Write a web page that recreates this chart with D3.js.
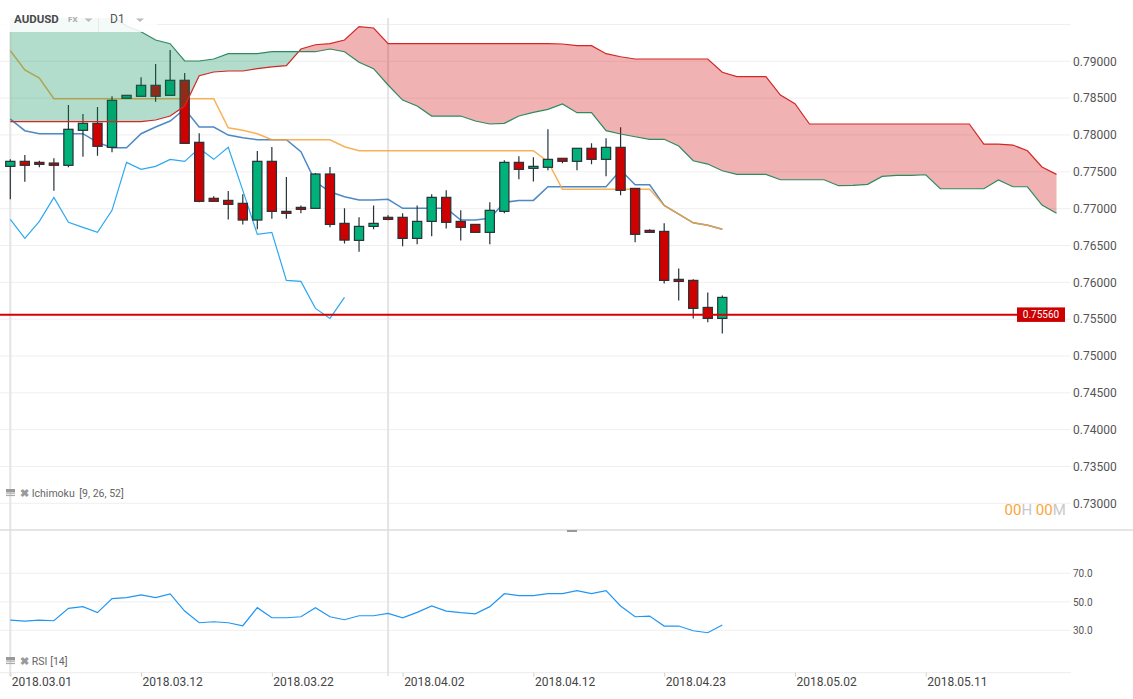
<!DOCTYPE html>
<html>
<head>
<meta charset="utf-8">
<title>AUDUSD D1</title>
<style>
  html, body { margin: 0; padding: 0; background: #fff; }
  svg { display: block; font-family: Roboto, "Open Sans", sans-serif; }
</style>
</head>
<body>
<script src="https://cdn.jsdelivr.net/npm/d3@7"></script>
<script>
// candles, one per trading day (2018.03.01 .. 2018.04.27)
const opens  = [0.77574,0.77642,0.77628,0.77619,0.77588,0.78063,0.78158,0.77832,0.78498,0.78525,
                0.78674,0.78538,0.78742,0.77900,0.77140,0.77112,0.77072,0.76845,0.77642,0.76963,
                0.77017,0.77004,0.77470,0.76800,0.76569,0.76759,0.76882,0.76882,0.76596,0.76827,
                0.77153,0.76827,0.76786,0.76678,0.76963,0.77628,0.77547,0.77561,0.77683,0.77642,
                0.77819,0.77669,0.77832,0.77275,0.76705,0.76691,0.76040,0.76026,0.75659,0.75510];
const highs  = [0.77669,0.77728,0.77650,0.77683,0.78407,0.78284,0.78379,0.78525,0.78538,0.78783,
                0.78963,0.79153,0.78841,0.78022,0.77167,0.77239,0.77194,0.77782,0.77836,0.77429,
                0.77044,0.77483,0.77565,0.77004,0.76882,0.77044,0.76909,0.76936,0.77044,0.77194,
                0.77248,0.76977,0.76786,0.77085,0.77656,0.77710,0.77696,0.78077,0.77683,0.77819,
                0.77886,0.77954,0.78104,0.77275,0.76719,0.76800,0.76189,0.76040,0.75863,0.75822];
const lows   = [0.77126,0.77365,0.77561,0.77243,0.77561,0.77704,0.77718,0.77764,0.78498,0.78525,
                0.78451,0.78538,0.77886,0.77085,0.77099,0.76854,0.76786,0.76719,0.76863,0.76863,
                0.76936,0.77004,0.76746,0.76528,0.76414,0.76719,0.76841,0.76488,0.76515,0.76624,
                0.76732,0.76569,0.76678,0.76515,0.76936,0.77398,0.77370,0.77520,0.77615,0.77520,
                0.77601,0.77438,0.77180,0.76542,0.76678,0.75985,0.75754,0.75510,0.75456,0.75306];
const closes = [0.77642,0.77588,0.77601,0.77588,0.78077,0.78158,0.77846,0.78470,0.78538,0.78674,
                0.78525,0.78742,0.77886,0.77099,0.77099,0.77058,0.76845,0.77642,0.76963,0.76936,
                0.76990,0.77470,0.76786,0.76573,0.76759,0.76800,0.76854,0.76596,0.76827,0.77153,
                0.76814,0.76746,0.76678,0.76977,0.77628,0.77533,0.77574,0.77669,0.77642,0.77819,
                0.77669,0.77832,0.77248,0.76651,0.76678,0.76026,0.76012,0.75646,0.75510,0.75795];

// ichimoku [9, 26, 52]
const tenkan = [0.78216,0.78058,0.78017,0.78017,0.78017,0.78017,0.77900,0.77827,0.77827,0.78017,
                0.78108,0.78189,0.78352,0.78108,0.78108,0.77999,0.77962,0.77935,0.77935,0.77935,
                0.77772,0.77365,0.77229,0.77161,0.77116,0.77116,0.77126,0.77004,0.77004,0.77004,
                0.77004,0.76845,0.76845,0.76868,0.77085,0.77112,0.77112,0.77297,0.77297,0.77297,
                0.77297,0.77297,0.77524,0.77324,0.77324,0.77044,0.76926,0.76808,0.76773,0.76719];
const kijun  = [0.79144,0.78882,0.78773,0.78492,0.78492,0.78492,0.78492,0.78492,0.78492,0.78492,
                0.78492,0.78492,0.78492,0.78492,0.78492,0.78098,0.78063,0.78017,0.77935,0.77935,
                0.77935,0.77935,0.77935,0.77840,0.77786,0.77786,0.77786,0.77786,0.77786,0.77786,
                0.77786,0.77786,0.77786,0.77786,0.77786,0.77786,0.77786,0.77637,0.77262,0.77262,
                0.77262,0.77262,0.77262,0.77262,0.77262,0.77044,0.76926,0.76808,0.76773,0.76719];
const senkouA = [0.79615,0.79615,0.79615,0.79615,0.79615,0.79615,0.79615,0.79615,0.79479,0.79402,
                 0.79289,0.79239,0.79004,0.79004,0.79031,0.79103,0.79103,0.79103,0.79130,0.79130,
                 0.79130,0.79130,0.79167,0.79130,0.78986,0.78900,0.78678,0.78474,0.78393,0.78257,
                 0.78257,0.78257,0.78189,0.78149,0.78158,0.78257,0.78307,0.78348,0.78420,0.78302,
                 0.78302,0.78058,0.78013,0.77976,0.77941,0.77941,0.77850,0.77650,0.77605,0.77514,
                 0.77465,0.77465,0.77465,0.77392,0.77392,0.77392,0.77392,0.77311,0.77316,0.77330,
                 0.77438,0.77452,0.77452,0.77460,0.77270,0.77270,0.77270,0.77270,0.77388,0.77297,
                 0.77297,0.77049,0.76936];
const senkouB = [0.78180,0.78180,0.78180,0.78180,0.78180,0.78180,0.78180,0.78180,0.78180,0.78180,
                 0.78203,0.78257,0.78393,0.78804,0.78855,0.78868,0.78868,0.78900,0.78923,0.78940,
                 0.79167,0.79225,0.79239,0.79289,0.79470,0.79452,0.79239,0.79239,0.79239,0.79239,
                 0.79239,0.79239,0.79239,0.79239,0.79239,0.79239,0.79239,0.79239,0.79235,0.79212,
                 0.79212,0.79103,0.79062,0.79031,0.79031,0.79031,0.79031,0.79031,0.79031,0.78851,
                 0.78791,0.78791,0.78791,0.78542,0.78424,0.78149,0.78149,0.78149,0.78149,0.78149,
                 0.78149,0.78149,0.78149,0.78149,0.78149,0.78149,0.78149,0.77877,0.77877,0.77863,
                 0.77786,0.77565,0.77465];
const chikouShift = 26;

// RSI [14]
const rsi = [37.2,36.5,37.2,36.7,45.4,46.6,42.4,52.2,52.9,54.8,
             52.9,55.5,43.5,35.3,36.0,35.3,33.2,45.9,38.8,38.8,
             39.5,45.9,39.5,37.4,40.2,40.2,41.8,38.8,42.6,47.1,
             43.5,42.4,41.6,46.6,55.7,54.3,54.3,55.7,55.7,57.8,
             55.7,57.8,47.1,39.5,40.0,33.0,33.0,29.7,28.3,33.7];

const tickIdx = [0, 9, 18, 27, 36, 45, 54, 63];
const tickLabels = ['2018.03.01','2018.03.12','2018.03.22','2018.04.02',
                    '2018.04.12','2018.04.23','2018.05.02','2018.05.11'];
const priceTicks = [0.73,0.735,0.74,0.745,0.75,0.755,0.76,0.765,0.77,0.775,0.78,0.785,0.79];
const priceGrid = priceTicks.concat([0.795]);
const rsiTicks = [30, 50, 70];
const lastPrice = 0.7556;
const crossIdx = 26;

const width = 1133;
const height = 699;
const plotRight = 1070.7;

const svg = d3.select('body').append('svg')
  .attr('width', width)
  .attr('height', height);

const x = d3.scaleLinear().domain([0, 49]).range([10.3, 722.3]);
const y = d3.scaleLinear().domain([0.73, 0.79]).range([503.3, 61.3]);
const yR = d3.scaleLinear().domain([30, 70]).range([630.3, 573.3]);

svg.append('defs').append('clipPath').attr('id', 'main')
  .append('rect').attr('x', 0).attr('y', 18).attr('width', plotRight).attr('height', 512);

// grids
svg.append('g').selectAll('line').data(priceGrid).join('line')
  .attr('x1', 0).attr('x2', plotRight)
  .attr('y1', d => y(d)).attr('y2', d => y(d))
  .attr('stroke', '#efefef').attr('stroke-width', 1);
svg.append('g').selectAll('line').data(rsiTicks).join('line')
  .attr('x1', 0).attr('x2', plotRight)
  .attr('y1', d => yR(d)).attr('y2', d => yR(d))
  .attr('stroke', '#efefef').attr('stroke-width', 1);
svg.append('line').attr('x1', 0).attr('x2', plotRight).attr('y1', 672.7).attr('y2', 672.7)
  .attr('stroke', '#ececec');

// vertical guide lines
svg.append('g').selectAll('line').data([0, crossIdx]).join('line')
  .attr('x1', d => x(d)).attr('x2', d => x(d))
  .attr('y1', 18).attr('y2', 676)
  .attr('stroke', '#e4e4e4').attr('stroke-width', 2);

const main = svg.append('g').attr('clip-path', 'url(#main)');

// ichimoku lines
const line = d3.line().x((d, i) => x(i)).y(d => y(d));
main.append('path').attr('d', line(tenkan))
  .attr('fill', 'none').attr('stroke', '#3a7cbd').attr('stroke-width', 1.5).attr('opacity', 0.9);
main.append('path').attr('d', line(kijun))
  .attr('fill', 'none').attr('stroke', '#f9a23a').attr('stroke-width', 1.5).attr('opacity', 0.85);
const chikou = closes.slice(chikouShift);
main.append('path').attr('d', line(chikou))
  .attr('fill', 'none').attr('stroke', '#2aa8f2').attr('stroke-width', 1.2);

// candles
const candles = closes.map((c, i) => ({ i, o: opens[i], h: highs[i], l: lows[i], c }));
const cg = main.append('g');
cg.selectAll('line').data(candles).join('line')
  .attr('x1', d => x(d.i)).attr('x2', d => x(d.i))
  .attr('y1', d => y(d.h)).attr('y2', d => y(d.l))
  .attr('stroke', '#263238').attr('stroke-width', 1.2);
cg.selectAll('rect').data(candles).join('rect')
  .attr('x', d => x(d.i) - 4.6)
  .attr('width', 9.2)
  .attr('y', d => y(Math.max(d.o, d.c)))
  .attr('height', d => Math.max(1, y(Math.min(d.o, d.c)) - y(Math.max(d.o, d.c))))
  .attr('fill', d => d.c >= d.o ? '#00b27a' : '#cf0000')
  .attr('stroke', '#263238').attr('stroke-width', 1.2);

// cloud fill, split where the spans cross
const pts = [];
senkouA.forEach((a, i) => {
  const b = senkouB[i];
  pts.push({ i, a, b });
  if (i < senkouA.length - 1) {
    const d0 = a - b, d1 = senkouA[i + 1] - senkouB[i + 1];
    if (d0 * d1 < 0) {
      const t = d0 / (d0 - d1);
      const v = a + t * (senkouA[i + 1] - a);
      pts.push({ i: i + t, a: v, b: v });
    }
  }
});
main.append('path')
  .attr('d', d3.area().x(d => x(d.i)).y0(d => y(d.b)).y1(d => y(Math.max(d.a, d.b)))(pts))
  .attr('fill', 'rgba(0,140,82,0.3)');
main.append('path')
  .attr('d', d3.area().x(d => x(d.i)).y0(d => y(d.a)).y1(d => y(Math.max(d.a, d.b)))(pts))
  .attr('fill', 'rgba(205,0,0,0.3)');
main.append('path').attr('d', line(senkouB))
  .attr('fill', 'none').attr('stroke', '#d52626').attr('stroke-width', 1.2);
main.append('path').attr('d', line(senkouA))
  .attr('fill', 'none').attr('stroke', '#2f8a5e').attr('stroke-width', 1.2);

// last price line and label
svg.append('line').attr('x1', 0).attr('x2', 1017)
  .attr('y1', y(lastPrice)).attr('y2', y(lastPrice))
  .attr('stroke', '#d50000').attr('stroke-width', 2);
svg.append('rect').attr('x', 1017).attr('y', y(lastPrice) - 7.3).attr('width', 48).attr('height', 14.5)
  .attr('fill', '#cc0000');
svg.append('text').attr('x', 1041).attr('y', y(lastPrice) + 3.6)
  .attr('text-anchor', 'middle').attr('fill', '#fff').attr('font-size', 10)
  .text(d3.format('.5f')(lastPrice));

// right price axis
const yAxis = svg.append('g').attr('transform', `translate(1073,0)`)
  .call(d3.axisRight(y).tickValues(priceTicks).tickSize(0).tickPadding(0).tickFormat(d3.format('.5f')));
yAxis.select('.domain').remove();
yAxis.selectAll('text').attr('font-size', 12).attr('fill', '#555').attr('font-family', 'Roboto');

// RSI panel
svg.append('path').attr('d', line.y(d => yR(d))(rsi))
  .attr('fill', 'none').attr('stroke', '#2196f3').attr('stroke-width', 1.2);
const rAxis = svg.append('g').attr('transform', `translate(1073,0)`)
  .call(d3.axisRight(yR).tickValues(rsiTicks).tickSize(0).tickPadding(0).tickFormat(d3.format('.1f')));
rAxis.select('.domain').remove();
rAxis.selectAll('text').attr('font-size', 10).attr('fill', '#555').attr('font-family', 'Roboto');

// panel separator
svg.append('line').attr('x1', 0).attr('x2', width).attr('y1', 530).attr('y2', 530)
  .attr('stroke', '#dcdcdc').attr('stroke-width', 1.5);
svg.append('rect').attr('x', 567).attr('y', 530).attr('width', 10).attr('height', 2).attr('fill', '#999');

// time axis
const xAxis = svg.append('g').attr('transform', 'translate(0,672.7)')
  .call(d3.axisBottom(x).tickValues(tickIdx).tickSize(4).tickPadding(1)
    .tickFormat((d, i) => tickLabels[i]));
xAxis.select('.domain').remove();
xAxis.selectAll('line').attr('stroke', '#d0d0d0');
xAxis.selectAll('text').attr('text-anchor', 'start').attr('dx', 1)
  .attr('font-size', 12).attr('fill', '#444').attr('font-family', 'Roboto');

// header
svg.append('rect').attr('x', 0).attr('y', 18).attr('width', 157).attr('height', 14)
  .attr('fill', '#fff').attr('opacity', 0.86);
svg.append('line').attr('x1', 98.5).attr('x2', 98.5).attr('y1', 18).attr('y2', 32)
  .attr('stroke', '#eaeaea');
svg.append('text').attr('x', 14).attr('y', 23.3).attr('font-size', 11.5).attr('font-weight', 'bold')
  .attr('fill', '#4a4a4a').text('AUDUSD');
svg.append('text').attr('x', 68).attr('y', 22.3).attr('font-size', 8).attr('font-weight', 'bold')
  .attr('fill', '#aaa').text('FX');
svg.append('text').attr('x', 110).attr('y', 23.3).attr('font-size', 12)
  .attr('fill', '#555').text('D1');
svg.append('g').selectAll('path').data([88.5, 140]).join('path')
  .attr('d', d => `M${d - 4},18.5 L${d + 4},18.5 L${d},22 Z`)
  .attr('fill', '#bbb');

// indicator legends
function legend(yb, name, params) {
  const g = svg.append('g');
  g.append('rect').attr('x', 6).attr('y', yb - 8).attr('width', 9).attr('height', 3).attr('fill', '#999');
  [3.4, 5.8].forEach(dy => {
    g.append('rect').attr('x', 6).attr('y', yb - 8 + dy).attr('width', 9)
      .attr('height', 1.3).attr('fill', '#aaa');
  });
  g.append('text').attr('x', 19.5).attr('y', yb).attr('font-size', 11).attr('font-weight', 'bold')
    .attr('fill', '#999').text('\u2716');
  g.append('text').attr('x', 31.7).attr('y', yb).attr('font-size', 10.5).attr('fill', '#666').text(name);
  g.append('text').attr('x', 31.7 + (name.length > 4 ? 47.6 : 18.5)).attr('y', yb)
    .attr('font-size', 10.5).attr('fill', '#666').text(params);
}
legend(497, 'Ichimoku', '[9, 26, 52]');
legend(665, 'RSI', '[14]');

// countdown
const cd = svg.append('text').attr('x', 1004.5).attr('y', 515).attr('font-size', 15);
[['00', '#f9a63b'], ['H ', '#c8c8c8'], ['00', '#f9a63b'], ['M', '#c8c8c8']].forEach(([t, c]) => {
  cd.append('tspan').attr('fill', c).attr('xml:space', 'preserve').text(t);
});
</script>
</body>
</html>
